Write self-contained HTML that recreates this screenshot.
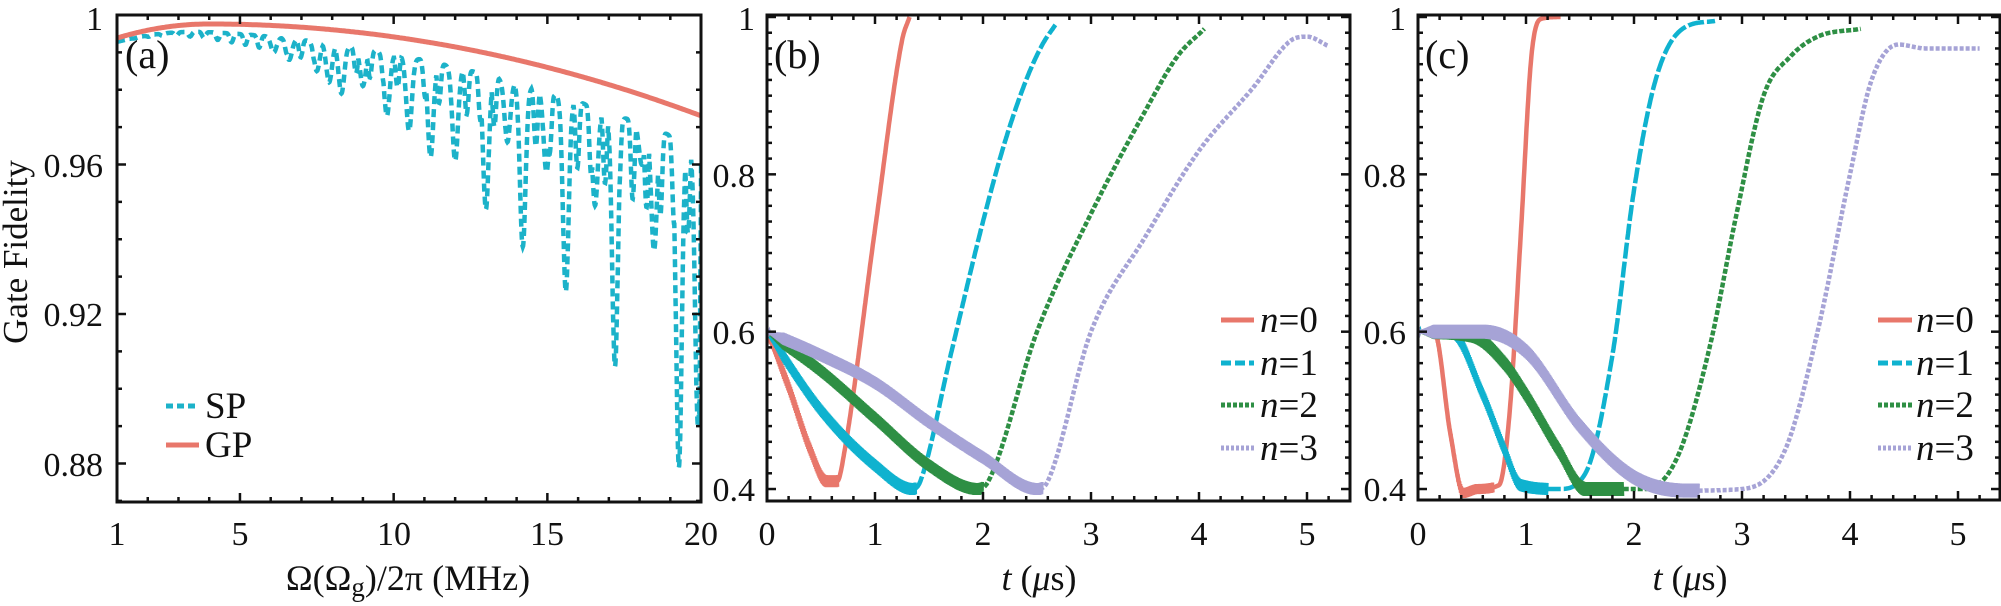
<!DOCTYPE html>
<html><head><meta charset="utf-8">
<style>
html,body{margin:0;padding:0;background:#fff;}
svg{display:block;}
text{font-family:"Liberation Serif",serif;fill:#111;}
</style></head>
<body>
<svg id="s" width="2001" height="606" viewBox="0 0 2001 606" xmlns="http://www.w3.org/2000/svg">
<g id="data"></g>
<g id="axes"></g>
<g font-size="34">
<text x="103" y="30" text-anchor="end">1</text>
<text x="103" y="177" text-anchor="end">0.96</text>
<text x="103" y="326" text-anchor="end">0.92</text>
<text x="103" y="476" text-anchor="end">0.88</text>
<text x="117" y="545" text-anchor="middle">1</text>
<text x="240" y="545" text-anchor="middle">5</text>
<text x="394" y="545" text-anchor="middle">10</text>
<text x="547" y="545" text-anchor="middle">15</text>
<text x="701" y="545" text-anchor="middle">20</text>
<text x="755" y="30" text-anchor="end">1</text>
<text x="755" y="187" text-anchor="end">0.8</text>
<text x="755" y="344" text-anchor="end">0.6</text>
<text x="755" y="501" text-anchor="end">0.4</text>
<text x="767" y="545" text-anchor="middle">0</text>
<text x="875" y="545" text-anchor="middle">1</text>
<text x="983" y="545" text-anchor="middle">2</text>
<text x="1091" y="545" text-anchor="middle">3</text>
<text x="1199" y="545" text-anchor="middle">4</text>
<text x="1307" y="545" text-anchor="middle">5</text>
<text x="1406" y="30" text-anchor="end">1</text>
<text x="1406" y="187" text-anchor="end">0.8</text>
<text x="1406" y="344" text-anchor="end">0.6</text>
<text x="1406" y="501" text-anchor="end">0.4</text>
<text x="1418" y="545" text-anchor="middle">0</text>
<text x="1526" y="545" text-anchor="middle">1</text>
<text x="1634" y="545" text-anchor="middle">2</text>
<text x="1742" y="545" text-anchor="middle">3</text>
<text x="1850" y="545" text-anchor="middle">4</text>
<text x="1958" y="545" text-anchor="middle">5</text>
</g>
<g font-size="40">
<text x="125" y="68">(a)</text>
<text x="774" y="68">(b)</text>
<text x="1425" y="68">(c)</text>
<text transform="translate(27,252) rotate(-90)" text-anchor="middle" font-size="35">Gate Fidelity</text>
<text x="408" y="590" text-anchor="middle" font-size="36">Ω(Ω<tspan font-size="27" dy="6">g</tspan><tspan dy="-6">)/2π  (MHz)</tspan></text>
<text x="1039" y="590" text-anchor="middle" font-size="36"><tspan font-style="italic">t</tspan> (<tspan font-style="italic">μ</tspan>s)</text>
<text x="1690" y="590" text-anchor="middle" font-size="36"><tspan font-style="italic">t</tspan> (<tspan font-style="italic">μ</tspan>s)</text>
</g>
<g stroke-width="5" fill="none">
<line x1="166" y1="406" x2="199" y2="406" stroke="#1cb2c9" stroke-dasharray="7 4"/>
<line x1="166" y1="445" x2="199" y2="445" stroke="#e8776b"/>
<line x1="1221" y1="320" x2="1254" y2="320" stroke="#e8776b"/>
<line x1="1221" y1="363" x2="1254" y2="363" stroke="#0fb2cf" stroke-dasharray="10 4"/>
<line x1="1221" y1="405" x2="1254" y2="405" stroke="#2e8f44" stroke-dasharray="4 2"/>
<line x1="1221" y1="448" x2="1254" y2="448" stroke="#a6a3d6" stroke-dasharray="3 2"/>
<line x1="1878" y1="320" x2="1912" y2="320" stroke="#e8776b"/>
<line x1="1878" y1="363" x2="1912" y2="363" stroke="#0fb2cf" stroke-dasharray="10 4"/>
<line x1="1878" y1="405" x2="1912" y2="405" stroke="#2e8f44" stroke-dasharray="4 2"/>
<line x1="1878" y1="448" x2="1912" y2="448" stroke="#a6a3d6" stroke-dasharray="3 2"/>
</g>
<g font-size="37">
<text x="205" y="418">SP</text>
<text x="205" y="457">GP</text>
<text x="1260" y="332"><tspan font-style="italic">n</tspan>=0</text>
<text x="1260" y="375"><tspan font-style="italic">n</tspan>=1</text>
<text x="1260" y="417"><tspan font-style="italic">n</tspan>=2</text>
<text x="1260" y="460"><tspan font-style="italic">n</tspan>=3</text>
<text x="1916" y="332"><tspan font-style="italic">n</tspan>=0</text>
<text x="1916" y="375"><tspan font-style="italic">n</tspan>=1</text>
<text x="1916" y="417"><tspan font-style="italic">n</tspan>=2</text>
<text x="1916" y="460"><tspan font-style="italic">n</tspan>=3</text>
</g>
</svg>
<script>
(function(){
var NS="http://www.w3.org/2000/svg";
var data=document.getElementById('data'), axes=document.getElementById('axes');
function el(p,tag,a){var e=document.createElementNS(NS,tag);for(var k in a)e.setAttribute(k,a[k]);p.appendChild(e);return e;}
function poly(p,pts,a){var d=pts.map(function(q,i){return (i?'L':'M')+q[0].toFixed(1)+' '+q[1].toFixed(1);}).join('');a.d=d;a.fill=a.fill||'none';return el(p,'path',a);}
function frame(x0,y0,x1,y1){el(axes,'rect',{x:x0,y:y0,width:x1-x0,height:y1-y0,fill:'none',stroke:'#111','stroke-width':3});}
function tick(x,y,dx,dy){el(axes,'line',{x1:x,y1:y,x2:x+dx,y2:y+dy,stroke:'#111','stroke-width':2.5});}
var AX=function(x){return 117+(x-1)*30.74;}, AY=function(v){return 15+(1-v)*3737.5;};
frame(117,15,701,502);
for(var x=1;x<=20;x++){var L=(x==1||x%5==0)?9:5;tick(AX(x),502,0,-L);tick(AX(x),15,0,L);}
for(var i=87;i<=100;i++){var v=i/100;var L=(i%4==0)?9:5;var y=AY(v);if(y>501||y<16)continue;tick(117,y,L,0);tick(701,y,-L,0);}
var BX=function(t){return 767+t*108;}, CX=function(t){return 1418+t*108;}, Y=function(v){return 17+(1-v)*786.7;};
frame(767,15,1350,501);frame(1418,15,2000,500);
[[767,1350,501],[1418,2000,500]].forEach(function(p){
 for(var j=0;j<=27;j++){var t=j*0.2;var L=(j%5==0)?9:5;var x=p[0]+t*108;if(x>p[1]-1)continue;tick(x,p[2],0,-L);tick(x,15,0,L);}
 for(var j=20;j<=50;j++){var v=j/50;var L=(j%10==0)?9:5;var y=Y(v);if(y<16)continue;tick(p[0],y,L,0);tick(p[1],y,-L,0);}
});
function GP(x){return x<4?0.9976-4.2e-4*(x-4)*(x-4):0.9976-9.6e-5*(x-4)*(x-4);}
var dips=[[6.1,0.990],[6.6,0.988],[7.5,0.985],[7.9,0.982],[8.3,0.979],[9.0,0.981],[9.78,0.973],[10.5,0.969],[11.2,0.962],[12.0,0.961],[13.0,0.948],[13.7,0.966],[14.2,0.938],[14.97,0.958],[15.6,0.926],[16.55,0.949],[17.2,0.906],[18.07,0.96],[18.47,0.937],[19.28,0.879],[19.9,0.89]];
var sp=[];
for(var x=1;x<=20.001;x+=0.01){
 var top=GP(x)-0.0004*(x-1)-0.001;
 var w=0.00035*Math.pow(x-1,1.45)*Math.pow(0.5-0.5*Math.cos(2*Math.PI*x/0.45),3);
 var d=0;dips.forEach(function(q){var a=GP(q[0])-0.0004*(q[0]-1)-0.001-q[1];var g=a*Math.exp(-Math.pow((x-q[0])/0.13,2));if(g>d)d=g;});
 var v=top-Math.max(w,d);
 if(x>19.95)v=0.89+(x-19.95)*1.4;
 sp.push([AX(x),AY(Math.min(v,0.9985))]);
}
var clipA=el(data,'clipPath',{id:'ca'});el(clipA,'rect',{x:117,y:15,width:584,height:487});
var ga=el(data,'g',{'clip-path':'url(#ca)'});
poly(ga,sp,{stroke:'#1cb2c9','stroke-width':4.5,'stroke-dasharray':'8 5'});
var gp=[];for(var x=1;x<=20.001;x+=0.05)gp.push([AX(x),AY(GP(x))]);
poly(ga,gp,{stroke:'#e8776b','stroke-width':5});
// monotone cubic interpolation
function interp(P){
 var n=P.length,dx=[],m=[],s=[];
 for(var i=0;i<n-1;i++){dx[i]=P[i+1][0]-P[i][0];s[i]=(P[i+1][1]-P[i][1])/dx[i];}
 m[0]=s[0];m[n-1]=s[n-2];
 for(var i=1;i<n-1;i++){m[i]=(s[i-1]*s[i]<=0)?0:(s[i-1]+s[i])/2;}
 for(var i=0;i<n-1;i++){if(s[i]==0){m[i]=0;m[i+1]=0;continue;}var a=m[i]/s[i],b=m[i+1]/s[i],h=a*a+b*b;if(h>9){var t=3/Math.sqrt(h);m[i]=t*a*s[i];m[i+1]=t*b*s[i];}}
 return function(x){if(x<=P[0][0])return P[0][1];if(x>=P[n-1][0])return P[n-1][1];
  for(var i=0;i<n-1;i++){if(x<=P[i+1][0]){var h=dx[i],t=(x-P[i][0])/h,t2=t*t,t3=t2*t;
   return (2*t3-3*t2+1)*P[i][1]+(t3-2*t2+t)*h*m[i]+(-2*t3+3*t2)*P[i+1][1]+(t3-t2)*h*m[i+1];}}};
}
function curve(g,X,pts,t0,t1,color,band,bandEnd,dash){
 var f=interp(pts);var line=[];
 for(var t=t0;t<=t1+1e-9;t+=0.005)line.push([X(t),Y(f(t))]);
 var z=[],k=0;
 for(var t=t0;t<=bandEnd;t+=0.004){k++;var h=band*Math.min(1,t/0.15);z.push([X(t),Y(f(t))+(k%2?h:-h)]);}
 if(z.length)poly(g,z,{stroke:color,'stroke-width':3});
 var a={stroke:color,'stroke-width':4.5};if(dash)a['stroke-dasharray']=dash;
 poly(g,line,a);
}
var cb=el(data,'clipPath',{id:'cb'});el(cb,'rect',{x:767,y:15,width:583,height:486});
var gb=el(data,'g',{'clip-path':'url(#cb)'});
curve(gb,BX,[[0,0.6],[0.2,0.53],[0.4,0.45],[0.55,0.41],[0.65,0.41],[0.72,0.45],[1.0,0.73],[1.25,0.97],[1.32,1.0]],0,1.32,'#e8776b',6,0.66);
curve(gb,BX,[[0,0.6],[0.5,0.5],[1.0,0.43],[1.35,0.4],[1.42,0.41],[1.7,0.57],[2.0,0.74],[2.2,0.84],[2.4,0.92],[2.55,0.965],[2.67,0.99]],0,2.67,'#0fb2cf',6,1.38,'14 3');
curve(gb,BX,[[0,0.6],[0.5,0.55],[1.0,0.49],[1.5,0.43],[1.95,0.4],[2.05,0.41],[2.5,0.6],[3.0,0.75],[3.5,0.88],[3.8,0.95],[4.05,0.985]],0,4.05,'#2e8f44',6,2.0,'5 2');
curve(gb,BX,[[0,0.6],[0.5,0.57],[1.0,0.535],[1.5,0.485],[2.0,0.44],[2.5,0.4],[2.6,0.41],[3.0,0.6],[3.5,0.72],[4.0,0.83],[4.5,0.91],[4.85,0.97],[5.0,0.975],[5.2,0.963]],0,5.2,'#a6a3d6',6,2.55,'4 2');
var cc=el(data,'clipPath',{id:'cc'});el(cc,'rect',{x:1418,y:15,width:582,height:485});
var gc=el(data,'g',{'clip-path':'url(#cc)'});
curve(gc,CX,[[0,0.6],[0.15,0.6],[0.3,0.47],[0.42,0.395],[0.55,0.4],[0.75,0.405],[0.85,0.5],[0.95,0.72],[1.05,0.95],[1.15,0.998],[1.32,1.0]],0,1.32,'#e8776b',5,0.7);
curve(gc,CX,[[0,0.6],[0.3,0.6],[0.6,0.52],[0.8,0.45],[0.95,0.405],[1.3,0.4],[1.55,0.42],[1.8,0.57],[2.0,0.78],[2.2,0.92],[2.45,0.985],[2.75,0.995]],0,2.75,'#0fb2cf',6,1.2,'16 3');
curve(gc,CX,[[0,0.6],[0.5,0.595],[0.8,0.56],[1.0,0.52],[1.3,0.45],[1.55,0.4],[2.1,0.4],[2.4,0.44],[2.7,0.58],[2.95,0.75],[3.2,0.9],[3.45,0.95],[3.7,0.975],[4.1,0.985]],0,4.1,'#2e8f44',7,1.9,'5 2');
curve(gc,CX,[[0,0.6],[0.6,0.6],[1.0,0.575],[1.5,0.48],[2.0,0.415],[2.5,0.398],[3.0,0.4],[3.4,0.45],[3.7,0.6],[4.0,0.8],[4.2,0.92],[4.45,0.965],[4.7,0.96],[5.2,0.96]],0,5.2,'#a6a3d6',7,2.6,'4 2');
})();
</script>
</body></html>
